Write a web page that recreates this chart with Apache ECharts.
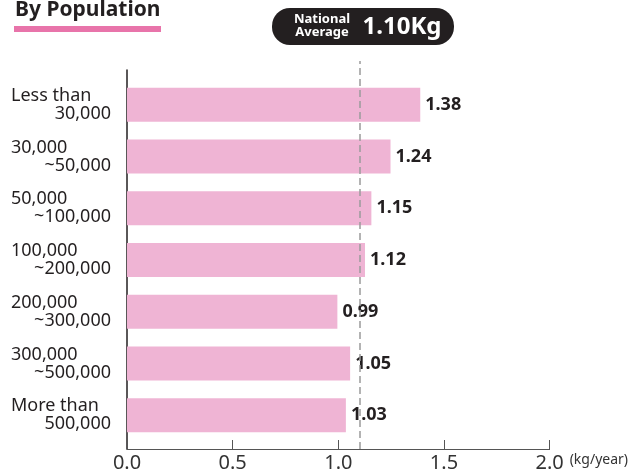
<!DOCTYPE html>
<html>
<head>
<meta charset="utf-8">
<script src="https://cdn.jsdelivr.net/npm/echarts@6/dist/echarts.min.js"></script>
<style>html,body{margin:0;padding:0;background:#fff;}#c{width:631px;height:473px;}</style>
</head>
<body>
<div id="c"></div>
<script>
const categories = ['Less than\n30,000', '30,000\n~50,000', '50,000\n~100,000', '100,000\n~200,000', '200,000\n~300,000', '300,000\n~500,000', 'More than\n500,000'];
const values = [1.38, 1.24, 1.15, 1.12, 0.99, 1.05, 1.03];
const nationalAverage = 1.10;
const xTicks = [0, 0.5, 1.0, 1.5, 2.0];

const chart = echarts.init(document.getElementById('c'), null, {renderer: 'canvas'});
const FONT = 'Noto Sans';
const dark = '#231f20';
const xMin = xTicks[0], xMax = xTicks[xTicks.length - 1];
const catFont = {fontFamily: FONT, fontSize: 18, color: dark, lineHeight: 18};

const option = {
  animation: false,
  backgroundColor: '#fff',
  textStyle: {fontFamily: FONT},
  grid: [
    {left: 127, right: 79, top: 61, bottom: 24, containLabel: false},
    {left: 127, right: 79, top: 70, bottom: 24, containLabel: false},
    {left: 127, right: 79, top: 79, bottom: 32, containLabel: false}
  ],
  xAxis: [
    {
      type: 'value', gridIndex: 0, min: xMin, max: xMax, interval: 0.5,
      axisLine: {show: true, lineStyle: {color: '#555', width: 1}},
      axisTick: {show: true, inside: true, length: 9, lineStyle: {color: '#555', width: 1}},
      splitLine: {show: false},
      axisLabel: {fontFamily: FONT, fontSize: 20, color: '#333', margin: 4,
        formatter: v => v.toFixed(1)},
      name: '(kg/year)', nameLocation: 'end', nameGap: 16,
      nameTextStyle: {fontFamily: FONT, fontSize: 14, color: '#333', verticalAlign: 'top', padding: [4, 0, 0, 0]}
    },
    {type: 'value', gridIndex: 1, min: xMin, max: xMax, show: false},
    {type: 'value', gridIndex: 2, min: xMin, max: xMax, show: false}
  ],
  yAxis: [
    {type: 'value', gridIndex: 0, min: 0, max: 1, show: false},
    {
      type: 'value', gridIndex: 1, min: 0, max: 1,
      axisLine: {show: true, lineStyle: {color: dark, width: 1.5}},
      axisTick: {show: false}, axisLabel: {show: false}, splitLine: {show: false}
    },
    {
      type: 'category', gridIndex: 2, inverse: true, data: categories,
      axisLine: {show: false}, axisTick: {show: false}, splitLine: {show: false},
      axisLabel: Object.assign({}, catFont, {
        align: 'right', margin: 16, width: 100, overflow: 'none',
        formatter: v => {
          const parts = v.split('\n');
          return '{a|' + parts[0] + '}\n{b|' + parts[1] + '}';
        },
        rich: {
          a: Object.assign({align: 'left'}, catFont),
          b: Object.assign({align: 'right'}, catFont)
        }
      })
    }
  ],
  series: [
    {
      type: 'line', xAxisIndex: 0, yAxisIndex: 0, data: [], silent: true,
      markLine: {
        silent: true, symbol: 'none', label: {show: false},
        lineStyle: {color: '#9a9a9a', width: 1.5, type: [7, 4]},
        data: [{xAxis: nationalAverage}]
      }
    },
    {
      type: 'bar',
      xAxisIndex: 2, yAxisIndex: 2,
      data: values,
      barWidth: 34,
      itemStyle: {color: '#efb4d4'},
      label: {
        show: true, position: 'right', distance: 5,
        fontFamily: FONT, fontSize: 18, fontWeight: 'bold', color: dark,
        formatter: p => p.value.toFixed(2)
      },
      z: 3
    }
  ],
  graphic: [
    {type: 'text', left: 15, top: 0, style: {text: 'By Population', fontFamily: FONT, fontSize: 21, fontWeight: 'bold', fill: dark}},
    {type: 'rect', shape: {x: 14, y: 26, width: 147, height: 6}, style: {fill: '#e874aa'}},
    {type: 'rect', shape: {x: 272, y: 8, width: 182, height: 37, r: 18}, style: {fill: dark}},
    {type: 'text', x: 322, y: 26, style: {text: 'National\nAverage', fontFamily: FONT, fontSize: 13, fontWeight: 'bold', fill: '#fff', lineHeight: 13, align: 'center', verticalAlign: 'middle'}},
    {type: 'text', x: 402, y: 27, style: {text: nationalAverage.toFixed(2) + 'Kg', fontFamily: FONT, fontSize: 24, fontWeight: 'bold', fill: '#fff', align: 'center', verticalAlign: 'middle'}}
  ]
};
chart.setOption(option);
</script>
</body>
</html>
